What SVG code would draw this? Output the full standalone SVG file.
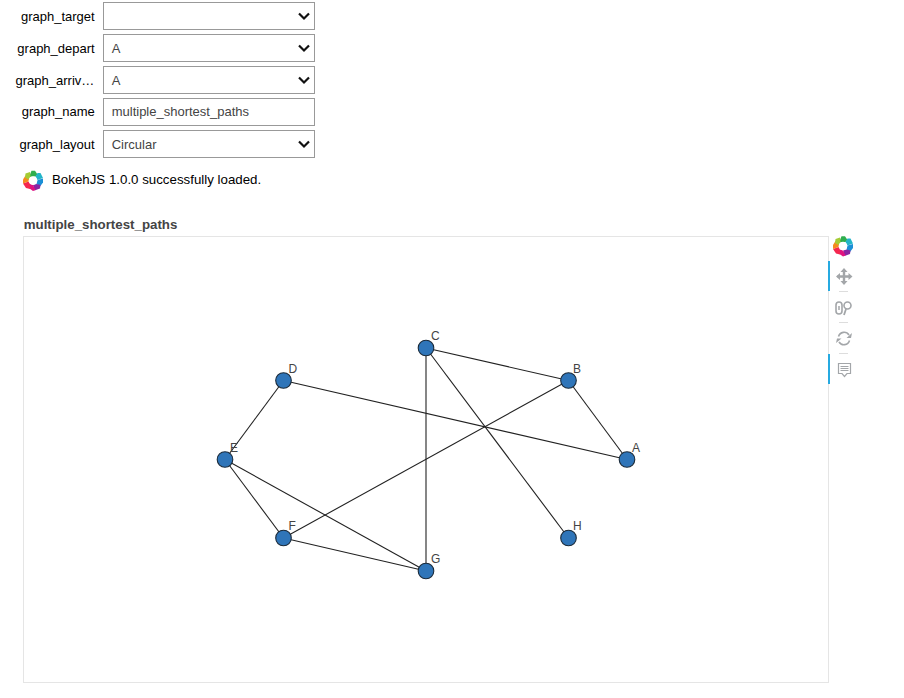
<svg xmlns="http://www.w3.org/2000/svg" xmlns:xlink="http://www.w3.org/1999/xlink" width="904" height="698" viewBox="0 0 904 698">
<style>
text{font-family:"Liberation Sans",Arial,sans-serif}
.lab{font-size:13px;fill:#000;text-anchor:end}
.box{fill:#fff;stroke:#999;stroke-width:1}
.val{font-size:13px;fill:#444}
.chev{fill:none;stroke:#111;stroke-width:2.2}
.edge{stroke:#222;stroke-width:1.1;fill:none}
.dot{fill:#2f75b9;stroke:#1a2a3a;stroke-width:1.1}
.nl{font-size:12px;fill:#444}
.ic{fill:none;stroke:#a3a6a9;stroke-width:1.6}
.bar{fill:#26aae1}
.sep{stroke:#ddd;stroke-width:1}
</style>
<defs>
<g id="logo">
<path d="M-4-3.600L-1.500-9.800L2-9.800L4.500-6L2.500-4Z" fill="#2fae4e"/>
<path d="M2.500-4L4.500-7.500L7.500-7.500L10-2.500L4.500-.5Z" fill="#22b5c9"/>
<path d="M4.500-.5L10-2L10 2L7 6L3.500 3.500Z" fill="#1b8fd6"/>
<path d="M3.500 3.500L7.500 4.500L7 8L1.500 10L0 4.500Z" fill="#8a23a3"/>
<path d="M0 4.500L2.500 9.500L0 10.500L-3.500 8L-3 3.500Z" fill="#e0127f"/>
<path d="M-3 3.500L-3 8.500L-7 7.500L-10 3L-4.500 1Z" fill="#f4274f"/>
<path d="M-4.500 1L-10 3L-10-1L-7.500-5L-3.500-3.500Z" fill="#f58a1f"/>
<path d="M-4.500-1L-8-3L-7.500-7L-3-8.500L-2.500-4Z" fill="#a4cc35"/>
<circle r="4.200" fill="#fff"/>
</g>
</defs>

<g id="graph_target">
<text class="lab" x="94.700" y="21">graph_target</text>
<rect class="box" x="103.500" y="2.500" width="211" height="27"/>
<path class="chev" d="M299 13.500L304 18.500L309 13.500"/>
</g>
<g id="graph_depart">
<text class="lab" x="94.700" y="53">graph_depart</text>
<rect class="box" x="103.500" y="34.500" width="211" height="27"/>
<text class="val" x="111.700" y="53">A</text>
<path class="chev" d="M299 45.500L304 50.500L309 45.500"/>
</g>
<g id="graph_arrive">
<text class="lab" x="94.300" y="85">graph_arriv…</text>
<rect class="box" x="103.500" y="66.500" width="211" height="27"/>
<text class="val" x="111.700" y="85">A</text>
<path class="chev" d="M299 77.500L304 82.500L309 77.500"/>
</g>
<g id="graph_name">
<text class="lab" x="94.700" y="116">graph_name</text>
<rect class="box" x="103.500" y="98.500" width="211" height="27"/>
<text class="val" x="111.700" y="116">multiple_shortest_paths</text>
</g>
<g id="graph_layout">
<text class="lab" x="94.700" y="149">graph_layout</text>
<rect class="box" x="103.500" y="130.500" width="211" height="27"/>
<text class="val" x="111.700" y="149">Circular</text>
<path class="chev" d="M299 141.500L304 146.500L309 141.500"/>
</g>
<g id="loaded">
<use xlink:href="#logo" href="#logo" transform="translate(33 180.500)"/>
<text x="52" y="184" font-size="13.300" fill="#000">BokehJS 1.0.0 successfully loaded.</text>
</g>
<g id="plot">
<text x="23.700" y="229" font-size="13.300" font-weight="700" fill="#444">multiple_shortest_paths</text>
<rect x="23.500" y="236.500" width="805" height="446" fill="#fff" stroke="#e5e5e5"/>
</g>

<g id="connectors">
<line class="edge" x1="627" y1="459.500" x2="568.500" y2="380.500"/>
<line class="edge" x1="627" y1="459.500" x2="283.500" y2="380.500"/>
<line class="edge" x1="568.500" y1="380.500" x2="426" y2="348"/>
<line class="edge" x1="568.500" y1="380.500" x2="283.500" y2="538"/>
<line class="edge" x1="426" y1="348" x2="426" y2="571"/>
<line class="edge" x1="426" y1="348" x2="568.500" y2="538"/>
<line class="edge" x1="283.500" y1="380.500" x2="225" y2="459.500"/>
<line class="edge" x1="225" y1="459.500" x2="283.500" y2="538"/>
<line class="edge" x1="225" y1="459.500" x2="426" y2="571"/>
<line class="edge" x1="283.500" y1="538" x2="426" y2="571"/>
</g>

<g id="node-A"><circle class="dot" cx="627" cy="459.500" r="7.800"/><text class="nl" x="632" y="452">A</text></g>
<g id="node-B"><circle class="dot" cx="568.500" cy="380.500" r="7.800"/><text class="nl" x="573" y="373">B</text></g>
<g id="node-C"><circle class="dot" cx="426" cy="348" r="7.800"/><text class="nl" x="431" y="340">C</text></g>
<g id="node-D"><circle class="dot" cx="283.500" cy="380.500" r="7.800"/><text class="nl" x="288.500" y="373">D</text></g>
<g id="node-E"><circle class="dot" cx="225" cy="459.500" r="7.800"/><text class="nl" x="230" y="452">E</text></g>
<g id="node-F"><circle class="dot" cx="283.500" cy="538" r="7.800"/><text class="nl" x="288.500" y="530">F</text></g>
<g id="node-G"><circle class="dot" cx="426" cy="571" r="7.800"/><text class="nl" x="431" y="563">G</text></g>
<g id="node-H"><circle class="dot" cx="568.500" cy="538" r="7.800"/><text class="nl" x="573" y="530">H</text></g>

<g id="toolbar">
<use xlink:href="#logo" href="#logo" transform="translate(843 246)"/>
<rect class="bar" x="828" y="261" width="2" height="30"/>
<rect class="bar" x="828" y="354" width="2" height="30"/>
<line class="sep" x1="839" x2="848" y1="291.500" y2="291.500"/>
<line class="sep" x1="839" x2="848" y1="322.500" y2="322.500"/>
<line class="sep" x1="839" x2="848" y1="353.500" y2="353.500"/>
<g id="tool-pan">
<path d="M844 270V283M837.500 276.500H850.500" stroke="#a3a6a9" stroke-width="2.400" fill="none"/>
<path d="M844 268L847.500 272H840.500ZM844 285L847.500 281H840.500ZM836 276.500L840 273V280ZM852.500 276.500L848.500 273V280Z" fill="#a3a6a9"/>
</g>
<g id="tool-zoom">
<rect class="ic" x="836" y="302" width="6" height="12" rx="3"/>
<line x1="839" x2="839" y1="306" y2="310" stroke="#a3a6a9" stroke-width="1.500"/>
<circle class="ic" cx="847.500" cy="305.500" r="3.500"/>
<line x1="846" x2="844" y1="309" y2="315" stroke="#a3a6a9" stroke-width="1.800"/>
</g>
<g id="tool-reset">
<path class="ic" d="M838.500 336.500A5.800 5.800 0 0 1 849 335"/>
<path class="ic" d="M849.500 340.500A5.800 5.800 0 0 1 839 342"/>
<path d="M852 333L851 338H846.500ZM836 343L837 338.500H841.500Z" fill="#a3a6a9"/>
</g>
<g id="tool-hover">
<path d="M838.500 363.500H850.500V373.500H847L844.500 376.500L842 373.500H838.500Z" fill="#fff" stroke="#a3a6a9" stroke-width="1.200"/>
<path d="M840.500 366.500H848.500M840.500 368.500H848.500M840.500 370.500H848.500" stroke="#a3a6a9" stroke-width="1"/>
</g>
</g>
</svg>
